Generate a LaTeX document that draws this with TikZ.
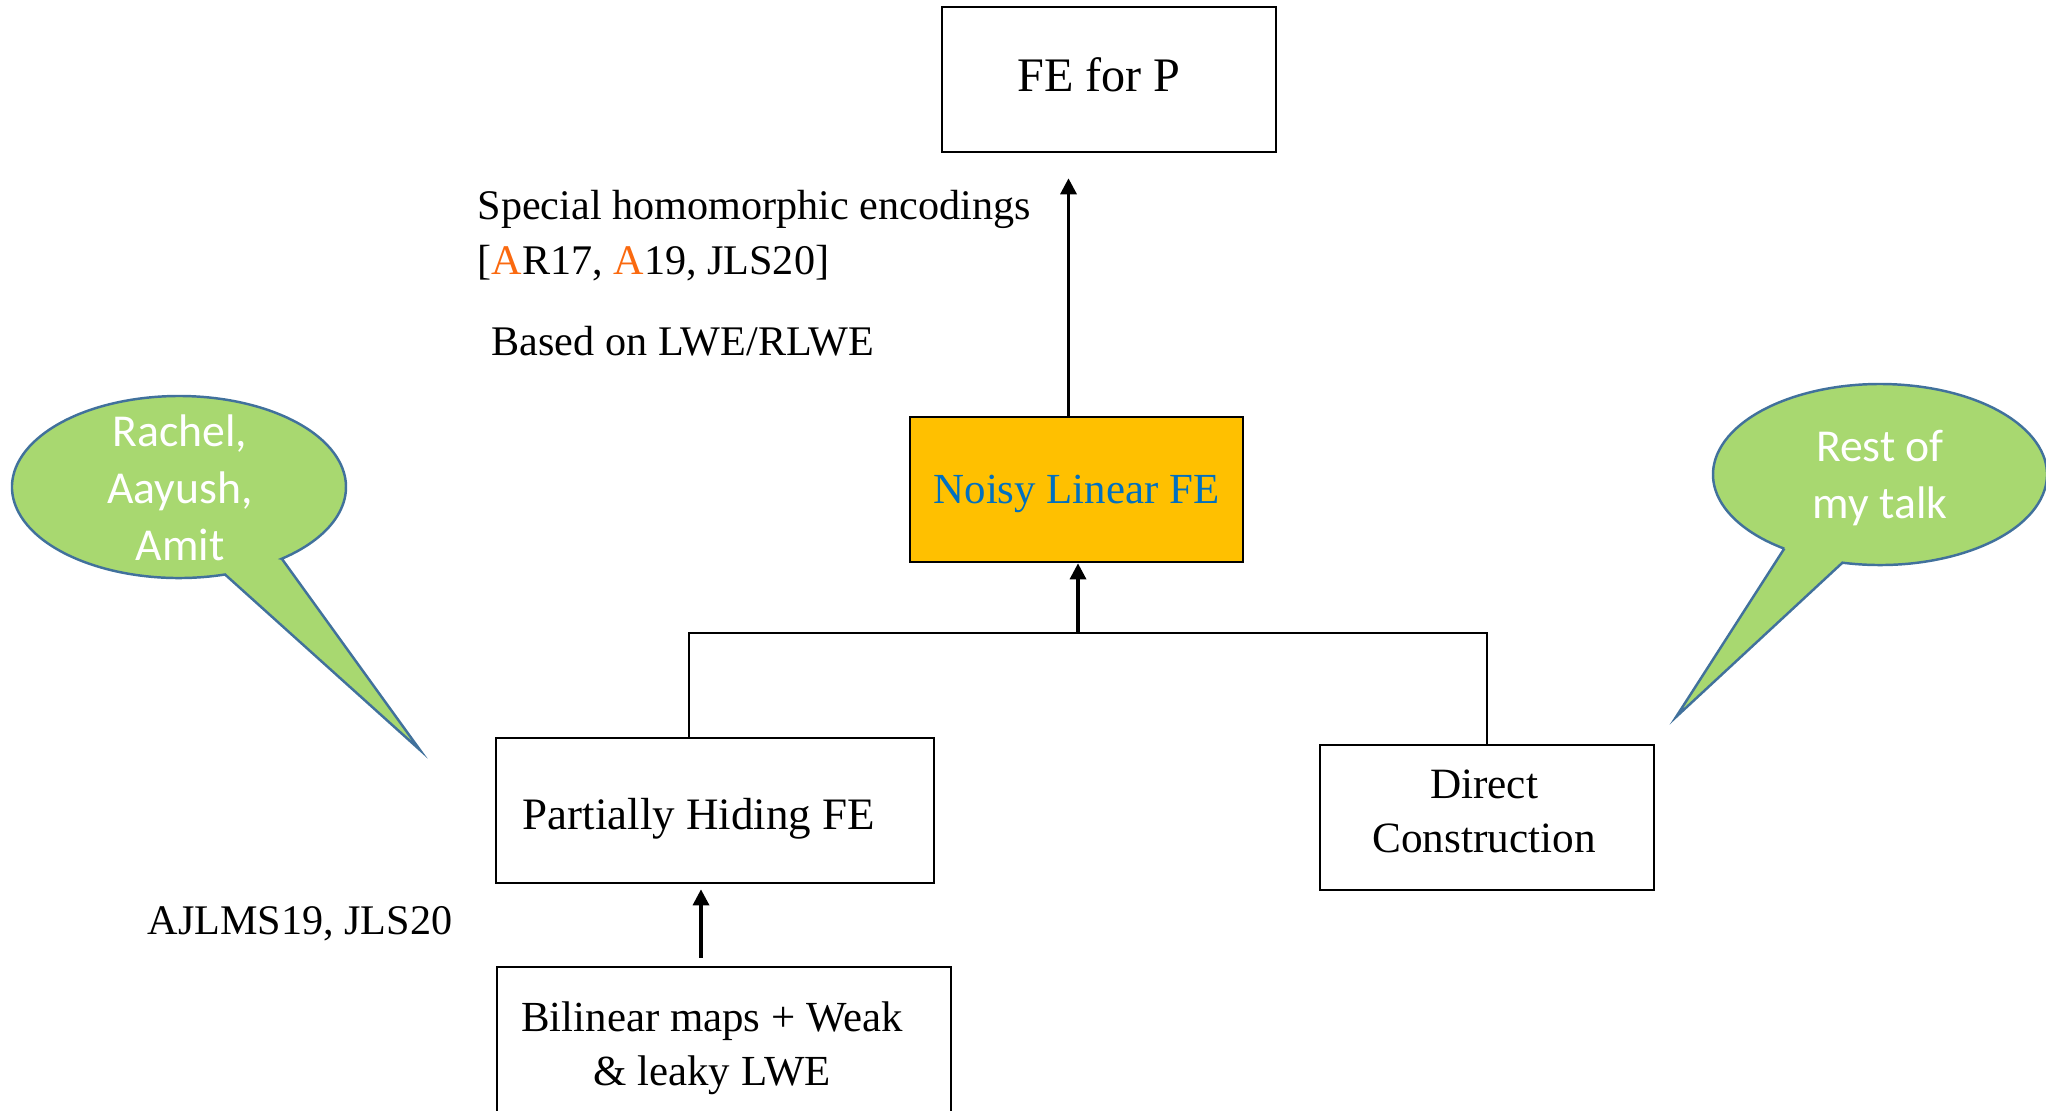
\documentclass[tikz,border=0pt]{standalone}
\usepackage{fontspec}
\setmainfont{Liberation Serif}
\newfontfamily\bubblefont{Carlito}
\usetikzlibrary{arrows.meta,positioning,calc}
\definecolor{noisyfill}{RGB}{255,192,0}
\definecolor{noisytext}{RGB}{0,112,192}
\definecolor{citeorange}{RGB}{250,105,15}
\definecolor{bubblefill}{RGB}{168,216,112}
\definecolor{bubbleline}{RGB}{65,113,156}
\newcommand{\citeA}{\textcolor{citeorange}{A}}
\newcommand{\sz}[1]{\fontsize{#1}{15.4}\selectfont}

\begin{document}
\begin{tikzpicture}[
    box/.style={rectangle,draw=black,line width=0.75pt,minimum height=1.45cm},
    boxtext/.style={align=center,inner sep=0pt},
    note/.style={inner sep=0pt,align=left,font=\fontsize{12}{15.6}\selectfont},
    bubble/.style={draw=bubbleline,fill=bubblefill,line width=0.7pt,line join=miter},
    bubbletext/.style={align=center,text=white,font=\bubblefont\fontsize{13}{16.2}\selectfont},
    arrow/.style={-{Triangle[length=1.6mm,width=1.6mm]},line width=0.95pt},
    link/.style={line width=0.75pt}
  ]
    \useasboundingbox (0,0) rectangle (20.46,-11.10);

    \node[box,minimum width=3.34cm] (fep) at (11.09,-0.795) {};
    \node[box,minimum width=3.33cm,fill=noisyfill] (noisy) at (10.765,-4.895) {};
    \node[box,minimum width=4.38cm] (phfe) at (7.15,-8.105) {};
    \node[box,minimum width=3.34cm] (direct) at (14.87,-8.175) {};
    \node[box,minimum width=4.54cm,minimum height=1.55cm] (bilin) at (7.24,-10.445) {};

    \node[boxtext,font=\sz{13.7}] (fep-t) at ([shift={(-0.10,0.05)}]fep.center) {FE for P};
    \node[boxtext,font=\sz{12.2},text=noisytext] (noisy-t) at ([shift={(0,-0.04)}]noisy.center) {Noisy Linear FE};
    \node[boxtext,font=\sz{12.8}] (phfe-t) at ([shift={(-0.16,-0.08)}]phfe.center) {Partially Hiding FE};
    \node[boxtext,font=\sz{12.3}] (direct-t) at ([shift={(-0.03,0.065)}]direct.center) {Direct\\Construction};
    \node[boxtext,font=\sz{12.2}] (bilin-t) at ([shift={(-0.12,-0.04)}]bilin.center) {Bilinear maps + Weak\\\& leaky LWE};

    \node[note,anchor=west] (special) at (4.77,-2.36) {Special homomorphic encodings\\{[}\citeA R17, \citeA 19, JLS20{]}};
    \node[note,anchor=west] (based) at (4.91,-3.41) {Based on LWE/RLWE};
    \node[note,anchor=west] (ajlms) at (1.47,-9.24) {AJLMS19, JLS20};

    \coordinate (join) at (10.78,-6.33);
    \draw[arrow,shorten >=0.25cm] ([xshift=-0.08cm]noisy.north) -- ([xshift=-0.08cm]noisy.north |- fep.south);
    \draw[arrow] (join) -- (join |- noisy.south);
    \draw[link] ([xshift=-0.26cm]phfe.north) |- (join) -| (direct.north);
    \draw[arrow,shorten <=0.08cm,shorten >=0.05cm] ([xshift=-0.23cm]bilin.north) -- ([xshift=-0.23cm]bilin.north |- phfe.south);

    % speech bubbles
    \coordinate (lc) at (1.79,-4.87);
    \coordinate (ltip) at (4.20,-7.50);
    \draw[bubble] ($(lc)+(-52:1.67 and 0.91)$) -- (ltip) -- ($(lc)+(-74:1.67 and 0.91)$)
      arc[start angle=-74,end angle=-412,x radius=1.67,y radius=0.91] -- cycle;
    \node[bubbletext] (names) at (1.80,-4.877) {Rachel,\\Aayush,\\Amit};

    \coordinate (rc) at (18.80,-4.745);
    \coordinate (rtip) at (16.76,-7.17);
    \draw[bubble] ($(rc)+(-125:1.67 and 0.905)$) -- (rtip) -- ($(rc)+(-103:1.67 and 0.905)$)
      arc[start angle=-103,end angle=235,x radius=1.67,y radius=0.905] -- cycle;
    \node[bubbletext] (rest) at (18.80,-4.78) {Rest of\\my talk};
  \end{tikzpicture}
\end{document}
